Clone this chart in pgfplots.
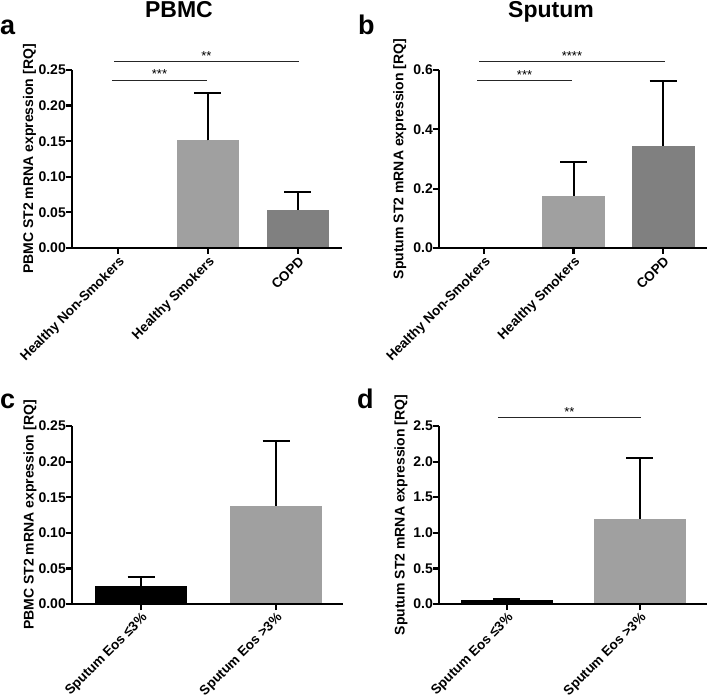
\documentclass[border=0pt]{standalone}
\usepackage{fontspec}
\setmainfont{Liberation Sans}
\usepackage{pgfplots}
\pgfplotsset{compat=1.18}
\definecolor{lg}{RGB}{160,160,160}
\definecolor{dg}{RGB}{128,128,128}
\pgfplotsset{
 panel/.style={
  scale only axis, anchor=south west, clip=false,
  axis lines=left, axis line style={draw=none},
  enlargelimits=false, ymin=0,
  tick align=outside, major tick length=6pt,
  tick style={line width=2.2pt, black},
  /pgf/number format/assume math mode=true,
  tick label style={font=\bfseries\fontsize{14}{14}\selectfont},
  ylabel style={font=\bfseries\fontsize{14}{14}\selectfont, anchor=center},
  xticklabel style={rotate=45, anchor=north east, inner sep=1pt, font=\bfseries\fontsize{13.5}{13.5}\selectfont},
  yticklabel style={inner sep=0pt},
  y tick label style={/pgf/number format/.cd, fixed, fixed zerofill},
 },
 eb/.style={error bars/.cd, y dir=plus, y explicit,
   error bar style={line width=2pt, black},
   error mark options={rotate=90, line width=2pt, black, mark size=13.5pt}},
}
\newcommand{\sig}[4]{% y, x1, x2, text
 \draw[line width=0.8pt, black!85] (axis cs:#2,#1) -- (axis cs:#3,#1);
 \node[anchor=base, inner sep=0pt, font=\fontsize{13}{13}\selectfont] at ([yshift=1pt]axis cs:{(#2+#3)/2},#1) {#4};}
\newcommand{\axlines}{\draw[line width=2.6pt, black, line join=miter] (rel axis cs:0,1) -- (rel axis cs:0,0) -- (rel axis cs:1,0);}
\begin{document}
\begin{tikzpicture}
\useasboundingbox (0,0) rectangle (708pt,699pt);
% titles and letters
\node[anchor=base, font=\bfseries\fontsize{23}{23}\selectfont, inner sep=0pt] at (179pt,681pt) {PBMC};
\node[anchor=base, font=\bfseries\fontsize{23}{23}\selectfont, inner sep=0pt] at (551pt,681pt) {Sputum};
\node[anchor=base west, font=\bfseries\fontsize{27}{27}\selectfont, inner sep=0pt] at (0pt,664pt) {a};
\node[anchor=base west, font=\bfseries\fontsize{27}{27}\selectfont, inner sep=0pt] at (358pt,664pt) {b};
\node[anchor=base west, font=\bfseries\fontsize{27}{27}\selectfont, inner sep=0pt] at (0pt,291pt) {c};
\node[anchor=base west, font=\bfseries\fontsize{27}{27}\selectfont, inner sep=0pt] at (357pt,291pt) {d};

% panel a
\begin{axis}[panel, at={(72pt,451pt)}, width=270pt, height=178pt,
  xmin=-0.511, xmax=2.489, ymax=0.25,
  ytick={0,0.05,0.1,0.15,0.2,0.25},
  y tick label style={/pgf/number format/precision=2},
  xtick={0,1,2}, xticklabels={Healthy Non-Smokers, Healthy Smokers, COPD},
  ylabel={PBMC ST2 mRNA expression [RQ]},
  ylabel style={at={(axis description cs:-0.157,0.5)}}]
\addplot[ybar, bar width=62pt, bar shift=0pt, fill=lg, draw=none, eb] coordinates {(1,0.151) +- (0,0.067)};
\addplot[ybar, bar width=62pt, bar shift=0pt, fill=dg, draw=none, eb] coordinates {(2,0.054) +- (0,0.024)};
\axlines
\sig{0.236}{-0.067}{0.989}{***}
\sig{0.262}{-0.044}{2.01}{**}
\end{axis}

% panel b
\begin{axis}[panel, at={(439pt,451pt)}, width=268pt, height=178pt,
  xmin=-0.503, xmax=2.49, ymax=0.6,
  ytick={0,0.2,0.4,0.6},
  y tick label style={/pgf/number format/precision=1},
  xtick={0,1,2}, xticklabels={Healthy Non-Smokers, Healthy Smokers, COPD},
  ylabel={Sputum ST2 mRNA expression [RQ]},
  ylabel style={at={(axis description cs:-0.146,0.5)}}]
\addplot[ybar, bar width=63pt, bar shift=0pt, fill=lg, draw=none, eb] coordinates {(1,0.176) +- (0,0.113)};
\addplot[ybar, bar width=63pt, bar shift=0pt, fill=dg, draw=none, eb] coordinates {(2,0.344) +- (0,0.219)};
\axlines
\sig{0.566}{-0.078}{0.983}{***}
\sig{0.628}{-0.056}{2.02}{****}
\end{axis}

% panel c
\begin{axis}[panel, at={(72pt,95pt)}, width=271pt, height=178pt,
  xmin=-0.511, xmax=1.496, ymax=0.25,
  ytick={0,0.05,0.1,0.15,0.2,0.25},
  y tick label style={/pgf/number format/precision=2},
  xtick={0,1}, xticklabels={Sputum Eos ≤3\%, Sputum Eos >3\%},
  ylabel={PBMC ST2 mRNA expression [RQ]},
  ylabel style={at={(axis description cs:-0.155,0.5)}}]
\addplot[ybar, bar width=92pt, bar shift=0pt, fill=black, draw=none, eb] coordinates {(0,0.025) +- (0,0.013)};
\addplot[ybar, bar width=92pt, bar shift=0pt, fill=lg, draw=none, eb] coordinates {(1,0.138) +- (0,0.091)};
\axlines
\end{axis}

% panel d
\begin{axis}[panel, at={(439pt,95pt)}, width=268pt, height=178pt,
  xmin=-0.511, xmax=1.504, ymax=2.5,
  ytick={0,0.5,1,1.5,2,2.5},
  y tick label style={/pgf/number format/precision=1},
  xtick={0,1}, xticklabels={Sputum Eos ≤3\%, Sputum Eos >3\%},
  ylabel={Sputum ST2 mRNA expression [RQ]},
  ylabel style={at={(axis description cs:-0.142,0.5)}}]
\addplot[ybar, bar width=92pt, bar shift=0pt, fill=black, draw=none, eb] coordinates {(0,0.05) +- (0,0.015)};
\addplot[ybar, bar width=92pt, bar shift=0pt, fill=lg, draw=none, eb] coordinates {(1,1.20) +- (0,0.85)};
\axlines
\sig{2.62}{-0.068}{1.008}{**}
\end{axis}
\end{tikzpicture}
\end{document}
